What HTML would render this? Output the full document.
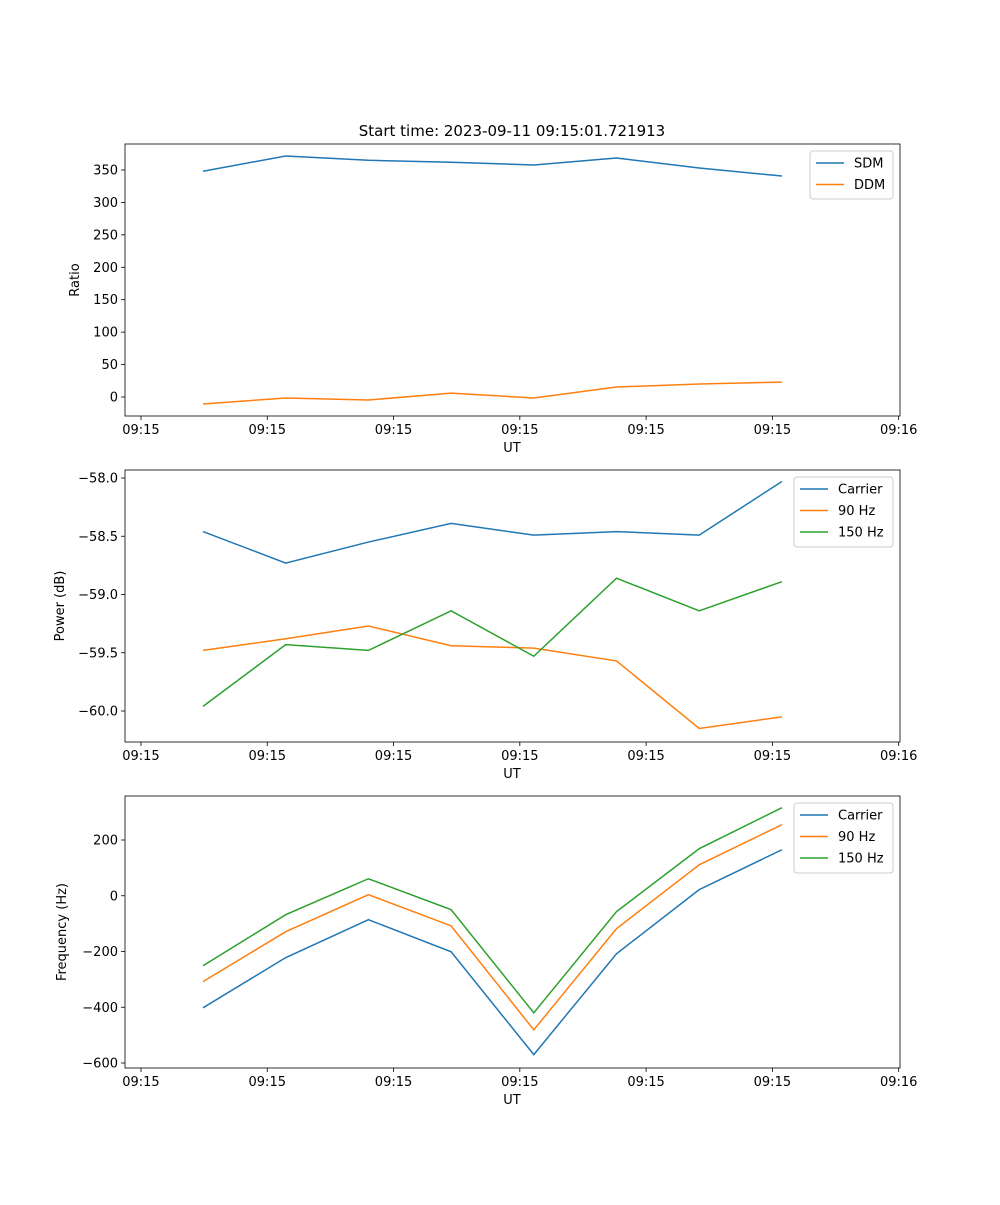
<!DOCTYPE html>
<html><head><meta charset="utf-8"><style>
body{margin:0;background:#fff;font-family:"Liberation Sans","DejaVu Sans",sans-serif}
svg text{font-family:"DejaVu Sans","Liberation Sans",sans-serif;font-size:13px;fill:#000}
</style></head><body>
<svg id="fig" width="1000" height="1200" xmlns="http://www.w3.org/2000/svg">
<rect width="1000" height="1200" fill="#fff"/>
<text x="512" y="136" text-anchor="middle" font-size="15" style="font-size:15px">Start time: 2023-09-11 09:15:01.721913</text>
</svg>
<script>
const xIndex=[0,1,2,3,4,5,6,7];
const xTickVals=[-0.75,0.777,2.304,3.831,5.358,6.885,8.412];
const xTickLabels=["09:15","09:15","09:15","09:15","09:15","09:15","09:16"];
const sdm=[348,371.6,365,362,357.7,368.5,353,340.7];
const ddm=[-10.8,-1.5,-4.6,6,-1.5,15.4,20,23];
const pwrCarrier=[-58.46,-58.73,-58.55,-58.39,-58.49,-58.46,-58.49,-58.03];
const pwr90=[-59.48,-59.38,-59.27,-59.44,-59.46,-59.57,-60.15,-60.05];
const pwr150=[-59.96,-59.43,-59.48,-59.14,-59.53,-58.86,-59.14,-58.89];
const frqCarrier=[-402,-222,-86,-201,-570,-208,22,165];
const frq90=[-308,-129,4,-108,-481,-118,111,255];
const frq150=[-251,-68,61,-50,-420,-57,169,316];
const ticks1=[0,50,100,150,200,250,300,350];
const ticks2=[-60.0,-59.5,-59.0,-58.5,-58.0];
const ticks3=[-600,-400,-200,0,200];

const NS="http://www.w3.org/2000/svg";
const svg=document.getElementById('fig');
const C={b:'#1f77b4',o:'#ff7f0e',g:'#2ca02c'};
function el(t,a,p){const e=document.createElementNS(NS,t);for(const k in a)e.setAttribute(k,a[k]);(p||svg).appendChild(e);return e;}
const X0=125,X1=900;
function xs(i){return 203+82.7*i;}
function panel(name,top,bot,yA,yB,pA,pB,ticks,fmt,ylabel,ylx,series,leg){
  const g=el('g',{});
  
  
  const ys=v=>pA+(v-yA)*(pB-pA)/(yB-yA);
  xTickVals.forEach((v,k)=>{const x=xs(v);
    el('line',{x1:x,x2:x,y1:bot,y2:bot+4,stroke:'#000','stroke-width':0.8},g);
    const t=el('text',{x:x,y:bot+18,'text-anchor':'middle'},g);t.textContent=xTickLabels[k];
    
    });
  ticks.forEach(v=>{const y=ys(v);
    el('line',{x1:X0,x2:X0-4,y1:y,y2:y,stroke:'#000','stroke-width':0.8},g);
    const t=el('text',{x:X0-7,y:y+4.5,'text-anchor':'end'},g);t.textContent=fmt(v);
    
    });
  series.forEach(s=>{
    const p=el('polyline',{points:s.d.map((v,i)=>xs(xIndex[i])+','+ys(v)).join(' '),fill:'none',stroke:s.c,'stroke-width':1.5},g);
    
    });
  el('rect',{x:X0,y:top,width:X1-X0,height:bot-top,fill:'none',stroke:'#000','stroke-width':0.8},g);
  const xl=el('text',{x:512,y:bot+36,'text-anchor':'middle'},g);xl.textContent='UT';
  
  
  const yl=el('text',{x:ylx,y:(top+bot)/2,'text-anchor':'middle',transform:`rotate(-90 ${ylx} ${(top+bot)/2})`},g);yl.textContent=ylabel;
  
  
  const lg=el('g',{},g);
  
  
  el('rect',{x:leg,y:top+7,width:893-leg,height:series.length*22+4,rx:3,fill:'#fff',stroke:'#ccc'},lg);
  series.forEach((s,k)=>{const y=top+19+k*21.5;
    el('line',{x1:leg+6,x2:leg+34,y1:y,y2:y,stroke:s.c,'stroke-width':1.5},lg);
    const t=el('text',{x:leg+44,y:y+4.5},lg);t.textContent=s.n;
    
    });
}
panel('ratio',144,416,0,350,397,170,ticks1,v=>String(v),'Ratio',79,[{n:'SDM',d:sdm,c:C.b},{n:'DDM',d:ddm,c:C.o}],810);
panel('power',470,742,-58,-60,478,711,ticks2,v=>(v<0?'\u2212':'')+Math.abs(v).toFixed(1),'Power (dB)',64,[{n:'Carrier',d:pwrCarrier,c:C.b},{n:'90 Hz',d:pwr90,c:C.o},{n:'150 Hz',d:pwr150,c:C.g}],794);
panel('frequency',796,1068,200,-600,840,1063,ticks3,v=>(v<0?'\u2212':'')+Math.abs(v),'Frequency (Hz)',66,[{n:'Carrier',d:frqCarrier,c:C.b},{n:'90 Hz',d:frq90,c:C.o},{n:'150 Hz',d:frq150,c:C.g}],794);
</script>
</body></html>
